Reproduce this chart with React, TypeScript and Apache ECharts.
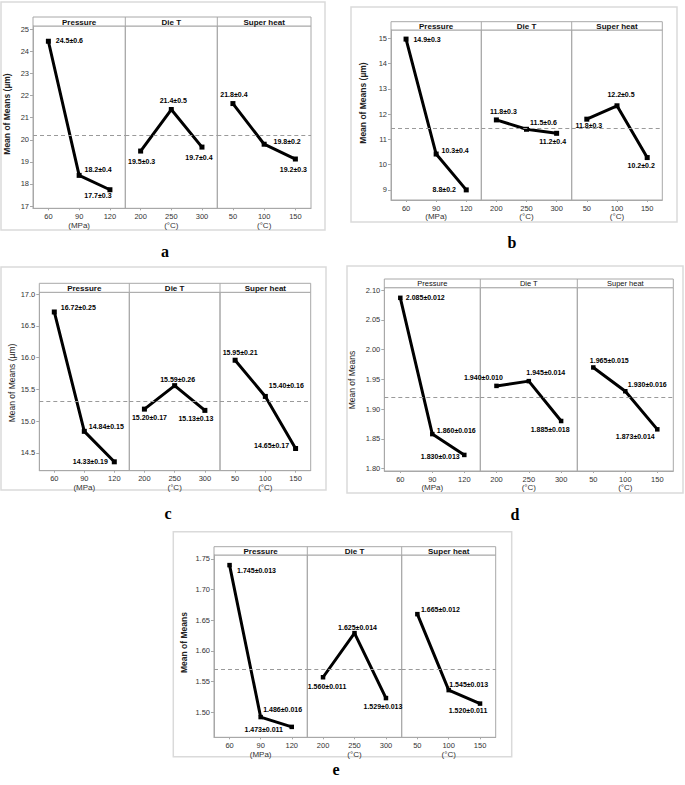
import React, { useEffect, useRef } from 'react';
import * as echarts from 'echarts';

// ---------- categories / names ----------
const pressureCats = ['60', '90', '120'];
const dieCats = ['200', '250', '300'];
const superCats = ['50', '100', '150'];
const factorNames = ['Pressure', 'Die T', 'Super heat'];
const unitNames = ['(MPa)', '(°C)', '(°C)'];

// ---------- panel a ----------
const aPressure = [24.46, 18.39, 17.74];
const aDie = [19.49, 21.37, 19.67];
const aSuper = [21.64, 19.8, 19.13];
const aLabelsP = ['24.5±0.6', '18.2±0.4', '17.7±0.3'];
const aLabelsD = ['19.5±0.3', '21.4±0.5', '19.7±0.4'];
const aLabelsS = ['21.8±0.4', '19.8±0.2', '19.2±0.3'];
const aMean = 20.2;
const aTicks = [17, 18, 19, 20, 21, 22, 23, 24, 25];

// ---------- panel b ----------
const bPressure = [14.97, 10.42, 9.0];
const bDie = [11.77, 11.4, 11.24];
const bSuper = [11.8, 12.33, 10.28];
const bLabelsP = ['14.9±0.3', '10.3±0.4', '8.8±0.2'];
const bLabelsD = ['11.8±0.3', '11.5±0.6', '11.2±0.4'];
const bLabelsS = ['11.8±0.3', '12.2±0.5', '10.2±0.2'];
const bMean = 11.44;
const bTicks = [9, 10, 11, 12, 13, 14, 15];

// ---------- panel c ----------
const cPressure = [16.72, 14.84, 14.36];
const cDie = [15.19, 15.56, 15.17];
const cSuper = [15.96, 15.39, 14.57];
const cLabelsP = ['16.72±0.25', '14.84±0.15', '14.33±0.19'];
const cLabelsD = ['15.20±0.17', '15.59±0.26', '15.13±0.13'];
const cLabelsS = ['15.95±0.21', '15.40±0.16', '14.65±0.17'];
const cMean = 15.31;
const cTicks = [14.5, 15.0, 15.5, 16.0, 16.5, 17.0];

// ---------- panel d ----------
const dPressure = [2.087, 1.858, 1.823];
const dDie = [1.939, 1.947, 1.88];
const dSuper = [1.97, 1.93, 1.866];
const dLabelsP = ['2.085±0.012', '1.860±0.016', '1.830±0.013'];
const dLabelsD = ['1.940±0.010', '1.945±0.014', '1.885±0.018'];
const dLabelsS = ['1.965±0.015', '1.930±0.016', '1.873±0.014'];
const dMean = 1.921;
const dTicks = [1.8, 1.85, 1.9, 1.95, 2.0, 2.05, 2.1];

// ---------- panel e ----------
const ePressure = [1.74, 1.492, 1.476];
const eDie = [1.557, 1.629, 1.523];
const eSuper = [1.66, 1.536, 1.514];
const eLabelsP = ['1.745±0.013', '1.486±0.016', '1.473±0.011'];
const eLabelsD = ['1.560±0.011', '1.625±0.014', '1.529±0.013'];
const eLabelsS = ['1.665±0.012', '1.545±0.013', '1.520±0.011'];
const eMean = 1.57;
const eTicks = [1.5, 1.55, 1.6, 1.65, 1.7, 1.75];

const FONT = '"Liberation Sans", Arial, sans-serif';
const SERIF = '"Liberation Serif", "Times New Roman", serif';
const FRAME = '#a8a8a8';

const panels = [
  {
    letter: 'a', values: [aPressure, aDie, aSuper], labels: [aLabelsP, aLabelsD, aLabelsS], mean: aMean, ticks: aTicks, dec: 0,
    yName: 'Mean of Means (µm)',
    box: [1, 2, 324, 228], left: 33, dividers: [125.3, 217.3], right: 311, headTop: 17, headBot: 26, bottom: 208.3,
    yMin: 16.9, yMax: 25.15, yNamePos: [7, 114], letterPos: [165, 251], headBold: true, nameBold: true, sym: 5,
    offsets: [[[21, -1], [19, -6], [-12, 6]], [[1, 10], [2, -9], [-3, 10]], [[1, -9], [23, -3], [-2, 10]]],
  },
  {
    letter: 'b', values: [bPressure, bDie, bSuper], labels: [bLabelsP, bLabelsD, bLabelsS], mean: bMean, ticks: bTicks, dec: 0,
    yName: 'Mean of Means (µm)',
    box: [351, 7, 326, 215], left: 391, dividers: [481.3, 571.7], right: 662.3, headTop: 21.7, headBot: 30, bottom: 200,
    yMin: 8.6, yMax: 15.33, yNamePos: [363.3, 103], letterPos: [512, 242], headBold: true, nameBold: true, sym: 5,
    offsets: [[[21, 0], [19, -4], [-22, 0]], [[7, -8], [17, -7], [-4, 8]], [[2, 6], [4, -11], [-6, 8]]],
  },
  {
    letter: 'c', values: [cPressure, cDie, cSuper], labels: [cLabelsP, cLabelsD, cLabelsS], mean: cMean, ticks: cTicks, dec: 1,
    yName: 'Mean of Means (µm)',
    box: [1, 267, 325, 223], left: 39.3, dividers: [129.3, 220], right: 310.7, headTop: 283.3, headBot: 292.3, bottom: 470.7,
    yMin: 14.22, yMax: 17.03, yNamePos: [11.7, 383], letterPos: [168, 513], headBold: true, nameBold: false, sym: 5,
    offsets: [[[24, -4], [22, -5], [-24, 0]], [[5, 8], [3, -6], [-9, 8]], [[5, -8], [21, -11], [-24, -3]]],
  },
  {
    letter: 'd', values: [dPressure, dDie, dSuper], labels: [dLabelsP, dLabelsD, dLabelsS], mean: dMean, ticks: dTicks, dec: 2,
    yName: 'Mean of Means',
    box: [347, 266, 336, 227], left: 384.3, dividers: [480.3, 577.3], right: 673.3, headTop: 279, headBot: 287.7, bottom: 471,
    yMin: 1.796, yMax: 2.104, yNamePos: [351.7, 380], letterPos: [515, 514], headBold: false, nameBold: false, sym: 4.5,
    offsets: [[[25, 0], [24, -4], [-24, 2]], [[-13, -8], [17, -9], [-11, 8]], [[16, -7], [22, -7], [-22, 7]]],
  },
  {
    letter: 'e', values: [ePressure, eDie, eSuper], labels: [eLabelsP, eLabelsD, eLabelsS], mean: eMean, ticks: eTicks, dec: 2,
    yName: 'Mean of Means',
    box: [173.3, 531.7, 338.4, 225], left: 214, dividers: [307.3, 401.7], right: 495.7, headTop: 546.7, headBot: 555, bottom: 737.3,
    yMin: 1.459, yMax: 1.7565, yNamePos: [184, 642.5], letterPos: [336, 769], headBold: true, nameBold: true, sym: 4.5,
    offsets: [[[27, 5], [22, -8], [-28, 3]], [[4, 9], [3, -6], [-3, 8]], [[23, -5], [20, -6], [-12, 7]]],
  },
];

const catsList = [pressureCats, dieCats, superCats];

function buildOption() {
  const grids: any[] = [];
  const xAxes: any[] = [];
  const yAxes: any[] = [];
  const series: any[] = [];
  const graphics: any[] = [];

  panels.forEach((p) => {
    const xs = [p.left, p.dividers[0], p.dividers[1], p.right];
    graphics.push({
      type: 'rect', z: -10,
      shape: { x: p.box[0], y: p.box[1], width: p.box[2], height: p.box[3] },
      style: { fill: '#fff', stroke: '#dadada', lineWidth: 1.5 },
    });
    for (let k = 0; k < 3; k++) {
      const gi = grids.length;
      grids.push({
        left: xs[k], top: p.headBot, width: xs[k + 1] - xs[k], height: p.bottom - p.headBot,
        show: true, borderColor: FRAME, borderWidth: 1, backgroundColor: 'transparent',
        containLabel: false, outerBoundsMode: 'none',
      });
      xAxes.push({
        gridIndex: gi, type: 'category', data: catsList[k], boundaryGap: true,
        axisLine: { show: true, lineStyle: { color: FRAME, width: 1 } },
        axisTick: { show: true, alignWithLabel: true, length: 2, lineStyle: { color: FRAME } },
        axisLabel: { fontSize: 7.5, color: '#333', margin: 4, fontFamily: FONT },
        name: unitNames[k], nameLocation: 'middle', nameGap: 12,
        nameTextStyle: { fontSize: 8, color: '#333', fontFamily: FONT },
        splitLine: { show: false },
      });
      yAxes.push({
        gridIndex: gi, type: 'value', min: p.yMin, max: p.yMax, show: k === 0,
        axisLine: { show: true, lineStyle: { color: FRAME, width: 1 } },
        axisTick: { show: true, length: 3, customValues: p.ticks, lineStyle: { color: FRAME } },
        axisLabel: {
          customValues: p.ticks, fontSize: 7.5, color: '#333', margin: 4, fontFamily: FONT,
          formatter: (v: number) => Number(v).toFixed(p.dec),
        },
        splitLine: { show: false },
      });
      const vals = p.values[k];
      const labs = p.labels[k];
      series.push({
        type: 'line', xAxisIndex: gi, yAxisIndex: gi,
        data: vals.map((v, i) => ({
          value: v,
          label: { formatter: labs[i], offset: p.offsets[k][i] },
        })),
        symbol: 'rect', symbolSize: p.sym,
        lineStyle: { color: '#000', width: 3 },
        itemStyle: { color: '#000' },
        label: {
          show: true, position: 'inside', color: '#000', fontSize: 7, fontWeight: 'bold',
          fontFamily: FONT, textBorderWidth: 0,
        },
        markLine: {
          silent: true, symbol: 'none', label: { show: false },
          lineStyle: { color: '#9a9a9a', type: [4, 3], width: 1 },
          data: [{ yAxis: p.mean }],
        },
        z: 3,
      });
    }
    // header strip
    graphics.push({
      type: 'rect',
      shape: { x: p.left, y: p.headTop, width: p.right - p.left, height: p.headBot - p.headTop },
      style: { fill: '#fff', stroke: FRAME, lineWidth: 1 },
    });
    p.dividers.forEach((dx) => {
      graphics.push({
        type: 'line', shape: { x1: dx, y1: p.headTop, x2: dx, y2: p.headBot },
        style: { stroke: FRAME, lineWidth: 1 },
      });
    });
    for (let k = 0; k < 3; k++) {
      graphics.push({
        type: 'text', x: (xs[k] + xs[k + 1]) / 2, y: (p.headTop + p.headBot) / 2 + 0.5,
        style: {
          text: factorNames[k], fontSize: p.headBold ? 8 : 7.5, fontWeight: p.headBold ? 'bold' : 'normal',
          fontFamily: FONT, fill: '#111', align: 'center', verticalAlign: 'middle',
        },
      });
    }
    // y axis name
    graphics.push({
      type: 'text', x: p.yNamePos[0], y: p.yNamePos[1], rotation: Math.PI / 2,
      style: {
        text: p.yName, fontSize: 8.5, fontWeight: p.nameBold ? 'bold' : 'normal', fontFamily: FONT,
        fill: '#222', align: 'center', verticalAlign: 'middle',
      },
    });
    // panel letter
    graphics.push({
      type: 'text', x: p.letterPos[0], y: p.letterPos[1],
      style: {
        text: p.letter, fontSize: 16, fontWeight: 'bold', fontFamily: SERIF,
        fill: '#000', align: 'center', verticalAlign: 'middle',
      },
    });
  });

  return {
    animation: false,
    backgroundColor: '#fff',
    grid: grids,
    xAxis: xAxes,
    yAxis: yAxes,
    series,
    graphic: graphics,
  };
}

export default function App() {
  const ref = useRef<HTMLDivElement>(null);
  useEffect(() => {
    const chart = echarts.init(ref.current as HTMLDivElement, null, { renderer: 'svg', width: 685, height: 785 });
    chart.setOption(buildOption() as any);
    return () => chart.dispose();
  }, []);
  return (
    <div
      ref={ref}
      style={{ position: 'fixed', left: 0, top: 0, width: 685, height: 785, background: '#fff' }}
    />
  );
}
